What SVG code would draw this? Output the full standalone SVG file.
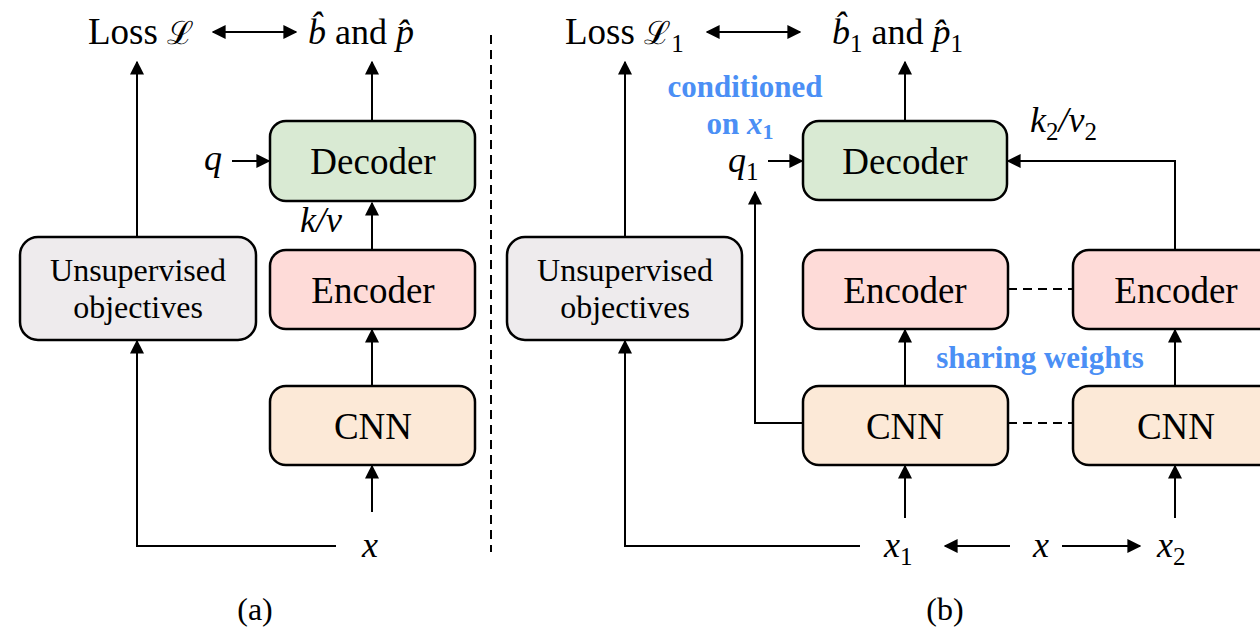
<svg xmlns="http://www.w3.org/2000/svg" width="1260" height="632" viewBox="0 0 1260 632">
<defs>
<marker id="ah" viewBox="0 0 10 10" refX="9" refY="5" markerWidth="14" markerHeight="14" markerUnits="userSpaceOnUse" orient="auto">
<path d="M0,0 L10,5 L0,10 z" fill="#000"/>
</marker>
<marker id="ahs" viewBox="0 0 10 10" refX="1" refY="5" markerWidth="14" markerHeight="14" markerUnits="userSpaceOnUse" orient="auto">
<path d="M10,0 L0,5 L10,10 z" fill="#000"/>
</marker>
</defs>

<g id="connectors" stroke="#000" stroke-width="2" fill="none">
<g marker-end="url(#ah)">
<line x1="137" y1="237" x2="137" y2="62"/>
<polyline points="336,546 137,546 137,341"/>
<line x1="372" y1="121" x2="372" y2="62"/>
<line x1="372" y1="250" x2="372" y2="203"/>
<line x1="372" y1="386" x2="372" y2="330"/>
<line x1="372" y1="512" x2="372" y2="466"/>
<line x1="232" y1="161" x2="269" y2="161"/>
<line x1="213" y1="32" x2="296" y2="32" marker-start="url(#ahs)"/>
<line x1="625" y1="237" x2="625" y2="62"/>
<polyline points="860,546 625,546 625,341"/>
<line x1="905" y1="121" x2="905" y2="62"/>
<line x1="768" y1="161" x2="802" y2="161"/>
<polyline points="803,423 755,423 755,192"/>
<polyline points="1175,250 1175,161 1008,161"/>
<line x1="905" y1="386" x2="905" y2="330"/>
<line x1="1175" y1="386" x2="1175" y2="330"/>
<line x1="905" y1="518" x2="905" y2="466"/>
<line x1="1175" y1="518" x2="1175" y2="466"/>
<line x1="1010" y1="546" x2="945" y2="546"/>
<line x1="1062" y1="546" x2="1140" y2="546"/>
<line x1="707" y1="32" x2="800" y2="32" marker-start="url(#ahs)"/>
</g>
<g stroke-dasharray="9,6">
<line x1="491" y1="35" x2="491" y2="552"/>
<line x1="1008" y1="289" x2="1073" y2="289"/>
<line x1="1008" y1="423" x2="1073" y2="423"/>
</g>
</g>

<g font-family="Liberation Serif, Times New Roman, Tinos, serif" fill="#000">
<g stroke="#000" stroke-width="2.5">
<g id="unsup-a">
<rect fill="#eeebed" x="20" y="237" width="236" height="103" rx="18"/>
<text stroke="none" font-size="32" text-anchor="middle" x="138" y="281">Unsupervised</text>
<text stroke="none" font-size="32" text-anchor="middle" x="138" y="318">objectives</text>
</g>
<g id="decoder-a">
<rect fill="#d9ead3" x="270" y="121" width="205" height="80" rx="16"/>
<text stroke="none" font-size="37" text-anchor="middle" x="373" y="174">Decoder</text>
</g>
<g id="encoder-a">
<rect fill="#fedbd8" x="270" y="250" width="205" height="79" rx="16"/>
<text stroke="none" font-size="37" text-anchor="middle" x="373" y="303">Encoder</text>
</g>
<g id="cnn-a">
<rect fill="#fce9d7" x="270" y="386" width="205" height="79" rx="16"/>
<text stroke="none" font-size="37" text-anchor="middle" x="373" y="439">CNN</text>
</g>
<g id="unsup-b">
<rect fill="#eeebed" x="507" y="237" width="235" height="103" rx="18"/>
<text stroke="none" font-size="32" text-anchor="middle" x="625" y="281">Unsupervised</text>
<text stroke="none" font-size="32" text-anchor="middle" x="625" y="318">objectives</text>
</g>
<g id="decoder-b">
<rect fill="#d9ead3" x="803" y="121" width="204" height="79" rx="16"/>
<text stroke="none" font-size="37" text-anchor="middle" x="905" y="174">Decoder</text>
</g>
<g id="encoder-b1">
<rect fill="#fedbd8" x="803" y="250" width="205" height="79" rx="16"/>
<text stroke="none" font-size="37" text-anchor="middle" x="905" y="303">Encoder</text>
</g>
<g id="encoder-b2">
<rect fill="#fedbd8" x="1073" y="250" width="205" height="79" rx="16"/>
<text stroke="none" font-size="37" text-anchor="middle" x="1176" y="303">Encoder</text>
</g>
<g id="cnn-b1">
<rect fill="#fce9d7" x="803" y="386" width="205" height="79" rx="16"/>
<text stroke="none" font-size="37" text-anchor="middle" x="905" y="439">CNN</text>
</g>
<g id="cnn-b2">
<rect fill="#fce9d7" x="1073" y="386" width="205" height="79" rx="16"/>
<text stroke="none" font-size="37" text-anchor="middle" x="1176" y="439">CNN</text>
</g>
</g>

<g id="labels-a">
<text font-size="37" x="88" y="44">Loss <tspan font-family="DejaVu Serif" font-size="32">ℒ</tspan></text>
<text font-style="italic" font-size="36" x="308" y="44">b̂<tspan font-style="normal"> and </tspan>p̂</text>
<text font-style="italic" font-size="36" x="204" y="170">q</text>
<text font-style="italic" font-size="36" x="300" y="232">k/v</text>
<text font-style="italic" font-size="36" x="362" y="557">x</text>
<text font-size="32" text-anchor="middle" x="255" y="620">(a)</text>
</g>

<g id="labels-b">
<text font-size="37" x="565" y="44">Loss <tspan font-family="DejaVu Serif" font-size="32">ℒ</tspan><tspan font-size="25" dy="8">1</tspan></text>
<text font-style="italic" font-size="36" x="832" y="44">b̂<tspan font-style="normal" font-size="25" dy="8">1</tspan><tspan font-style="normal" dy="-8"> and </tspan>p̂<tspan font-style="normal" font-size="25" dy="8">1</tspan></text>
<g fill="#4b8ff5" font-weight="bold" font-size="31" text-anchor="middle">
<text x="745" y="97">conditioned</text>
<text x="740" y="134">on <tspan font-style="italic">x</tspan><tspan font-size="22" dy="5">1</tspan></text>
<text x="1040" y="368">sharing weights</text>
</g>
<g font-style="italic" font-size="36">
<text x="728" y="172">q<tspan font-style="normal" font-size="25" dy="8">1</tspan></text>
<text x="1030" y="132">k<tspan font-style="normal" font-size="25" dy="8">2</tspan><tspan dy="-8">/v</tspan><tspan font-style="normal" font-size="25" dy="8">2</tspan></text>
<text x="884" y="557">x<tspan font-style="normal" font-size="25" dy="8">1</tspan></text>
<text x="1033" y="557">x</text>
<text x="1157" y="557">x<tspan font-style="normal" font-size="25" dy="8">2</tspan></text>
</g>
<text font-size="32" text-anchor="middle" x="945" y="620">(b)</text>
</g>
</g>
</svg>
